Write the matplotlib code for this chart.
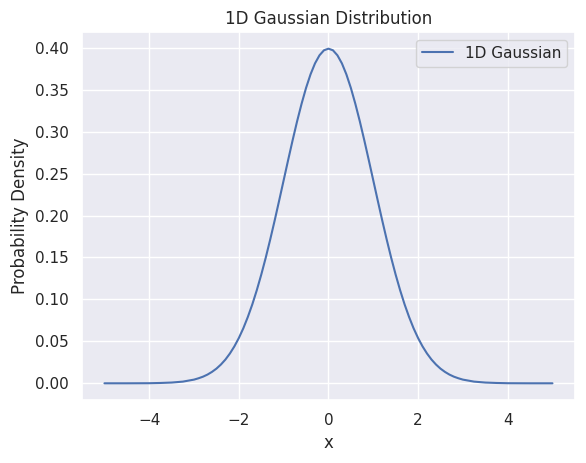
import matplotlib
matplotlib.use('Agg')
import matplotlib.pyplot as plt
import seaborn as sns

sns.set_theme()

# values (denser near the peak)
x = [-5.0, -4.5, -4.0, -3.75, -3.5, -3.25, -3.0, -2.9, -2.8, -2.7, -2.6,
     -2.5, -2.4, -2.3, -2.2, -2.1, -2.0, -1.9, -1.8, -1.7, -1.6,
     -1.5, -1.4, -1.3, -1.2, -1.1, -1.0, -0.9, -0.8, -0.7, -0.6,
     -0.5, -0.4, -0.3, -0.2, -0.1, 0.0, 0.1, 0.2, 0.3, 0.4,
     0.5, 0.6, 0.7, 0.8, 0.9, 1.0, 1.1, 1.2, 1.3, 1.4,
     1.5, 1.6, 1.7, 1.8, 1.9, 2.0, 2.1, 2.2, 2.3, 2.4,
     2.5, 2.6, 2.7, 2.8, 2.9, 3.0, 3.25, 3.5, 3.75, 4.0, 4.5, 5.0]
density = [0.0000, 0.0000, 0.0001, 0.0004, 0.0009, 0.0020, 0.0044, 0.0060, 0.0079, 0.0104, 0.0136,
           0.0175, 0.0224, 0.0283, 0.0355, 0.0440, 0.0540, 0.0656, 0.0790, 0.0940, 0.1109,
           0.1295, 0.1497, 0.1714, 0.1942, 0.2179, 0.2420, 0.2661, 0.2897, 0.3123, 0.3332,
           0.3521, 0.3683, 0.3814, 0.3910, 0.3970, 0.3989, 0.3970, 0.3910, 0.3814, 0.3683,
           0.3521, 0.3332, 0.3123, 0.2897, 0.2661, 0.2420, 0.2179, 0.1942, 0.1714, 0.1497,
           0.1295, 0.1109, 0.0940, 0.0790, 0.0656, 0.0540, 0.0440, 0.0355, 0.0283, 0.0224,
           0.0175, 0.0136, 0.0104, 0.0079, 0.0060, 0.0044, 0.0020, 0.0009, 0.0004, 0.0001, 0.0000, 0.0000]

fig = plt.figure(figsize=(5.86, 4.63), dpi=100)
ax = fig.add_axes([0.14, 0.136, 0.841, 0.795])
ax.plot(x, density, label='1D Gaussian')
ax.set_title('1D Gaussian Distribution')
ax.set_xlabel('x')
ax.set_ylabel('Probability Density')
ax.legend(loc='upper right')
fig.savefig('out.png')
